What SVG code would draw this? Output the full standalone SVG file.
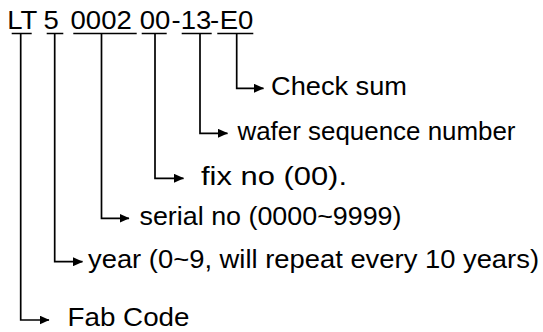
<svg xmlns="http://www.w3.org/2000/svg" width="543" height="332" viewBox="0 0 543 332">
<defs>
<style>
text{font-family:"Liberation Sans",Arial,sans-serif;font-size:25.5px;fill:#000}
.t{font-size:25px;text-anchor:middle}
.u{stroke:#000;stroke-width:1.4;fill:none}
.c{stroke:#000;stroke-width:1.7;fill:none}
</style>
<marker id="ah" viewBox="0 0 10 10" refX="9.5" refY="5" markerWidth="10" markerHeight="9" markerUnits="userSpaceOnUse" orient="auto" preserveAspectRatio="none">
<path d="M0,0 L10,5 L0,10 Z" fill="#000"/>
</marker>
</defs>
<rect width="543" height="332" fill="#fff"/>
<g id="code">
<text class="t" y="29.5" transform="scale(1.1,1)"><tspan x="23.64">LT</tspan> <tspan x="50">5</tspan> <tspan x="95.45">0002</tspan> <tspan x="140.91">00</tspan><tspan x="160">-</tspan><tspan x="178.18">13</tspan><tspan x="195">-</tspan><tspan x="215">E0</tspan></text>
<path class="u" d="M11.7,33.5H31.7M46.7,33.5H63.3M73.3,33.5H136.7M141.7,33.5H166.7M181.7,33.5H211.7M217.3,33.5H253.3"/>
</g>
<g id="connectors">
<path class="c" d="M236.7,33.5V88.3H263.5" marker-end="url(#ah)"/>
<path class="c" d="M200,33.5V133.3H227.5" marker-end="url(#ah)"/>
<path class="c" d="M155,33.5V178.3H183.5" marker-end="url(#ah)"/>
<path class="c" d="M101.5,33.5V218.3H129" marker-end="url(#ah)"/>
<path class="c" d="M54.7,33.5V261.7H82.5" marker-end="url(#ah)"/>
<path class="c" d="M20.7,33.5V320H49" marker-end="url(#ah)"/>
</g>
<g id="checksum"><text x="271" y="94.5" textLength="136" lengthAdjust="spacingAndGlyphs">Check sum</text></g>
<g id="wafer"><text x="237.5" y="139.5" textLength="278" lengthAdjust="spacingAndGlyphs">wafer sequence number</text></g>
<g id="fixno"><text x="201" y="184.5" textLength="146" lengthAdjust="spacingAndGlyphs">fix no (00).</text></g>
<g id="serial"><text x="139.5" y="224.5" textLength="262" lengthAdjust="spacingAndGlyphs">serial no (0000~9999)</text></g>
<g id="year"><text x="88" y="267.5" textLength="451" lengthAdjust="spacingAndGlyphs">year (0~9, will repeat every 10 years)</text></g>
<g id="fab"><text x="67.5" y="326" textLength="122" lengthAdjust="spacingAndGlyphs">Fab Code</text></g>
</svg>
